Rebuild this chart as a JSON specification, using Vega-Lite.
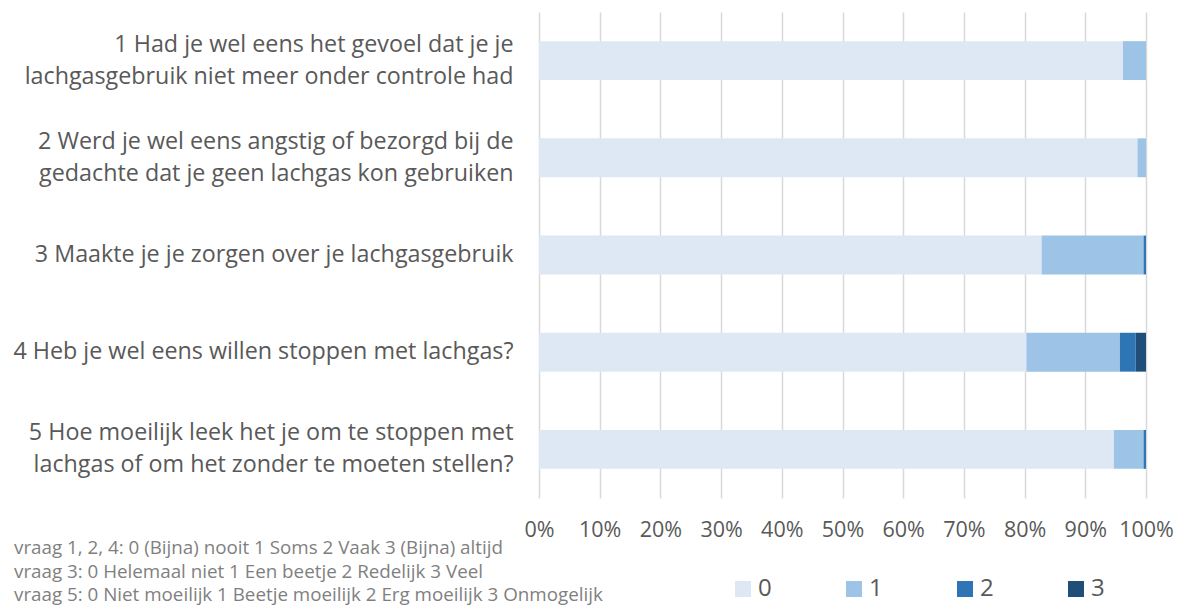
{
  "$schema": "https://vega.github.io/schema/vega-lite/v6.json",
  "width": 607,
  "height": 486,
  "autosize": "none",
  "padding": {"left": 539, "top": 12, "right": 34, "bottom": 111},
  "background": "white",
  "config": {
    "view": {"stroke": null},
    "font": "Open Sans"
  },
  "title": {
    "text": [
      "vraag 1, 2, 4: 0 (Bijna) nooit 1 Soms 2 Vaak 3 (Bijna) altijd",
      "vraag 3: 0 Helemaal niet 1 Een beetje 2 Redelijk 3 Veel",
      "vraag 5: 0 Niet moeilijk 1 Beetje moeilijk 2 Erg moeilijk 3 Onmogelijk"
    ],
    "orient": "bottom",
    "anchor": "start",
    "frame": "group",
    "dx": -525,
    "dy": -68,
    "offset": 6,
    "fontSize": 18.8,
    "fontWeight": "normal",
    "color": "#7F7F7F",
    "lineHeight": 23.5,
    "font": "Open Sans"
  },
  "data": {
    "values": [
      {"vraag": "1 Had je wel eens het gevoel dat je je|lachgasgebruik niet meer onder controle had", "score": "0", "k": 0, "aandeel": 0.962},
      {"vraag": "1 Had je wel eens het gevoel dat je je|lachgasgebruik niet meer onder controle had", "score": "1", "k": 1, "aandeel": 0.038},
      {"vraag": "2 Werd je wel eens angstig of bezorgd bij de|gedachte dat je geen lachgas kon gebruiken", "score": "0", "k": 0, "aandeel": 0.986},
      {"vraag": "2 Werd je wel eens angstig of bezorgd bij de|gedachte dat je geen lachgas kon gebruiken", "score": "1", "k": 1, "aandeel": 0.014},
      {"vraag": "3 Maakte je je zorgen over je lachgasgebruik", "score": "0", "k": 0, "aandeel": 0.828},
      {"vraag": "3 Maakte je je zorgen over je lachgasgebruik", "score": "1", "k": 1, "aandeel": 0.168},
      {"vraag": "3 Maakte je je zorgen over je lachgasgebruik", "score": "2", "k": 2, "aandeel": 0.004},
      {"vraag": "4 Heb je wel eens willen stoppen met lachgas?", "score": "0", "k": 0, "aandeel": 0.803},
      {"vraag": "4 Heb je wel eens willen stoppen met lachgas?", "score": "1", "k": 1, "aandeel": 0.154},
      {"vraag": "4 Heb je wel eens willen stoppen met lachgas?", "score": "2", "k": 2, "aandeel": 0.026},
      {"vraag": "4 Heb je wel eens willen stoppen met lachgas?", "score": "3", "k": 3, "aandeel": 0.017},
      {"vraag": "5 Hoe moeilijk leek het je om te stoppen met|lachgas of om het zonder te moeten stellen?", "score": "0", "k": 0, "aandeel": 0.947},
      {"vraag": "5 Hoe moeilijk leek het je om te stoppen met|lachgas of om het zonder te moeten stellen?", "score": "1", "k": 1, "aandeel": 0.049},
      {"vraag": "5 Hoe moeilijk leek het je om te stoppen met|lachgas of om het zonder te moeten stellen?", "score": "2", "k": 2, "aandeel": 0.004}
    ]
  },
  "mark": {"type": "bar"},
  "encoding": {
    "y": {
      "field": "vraag",
      "type": "nominal",
      "sort": null,
      "scale": {"paddingInner": 0.6, "paddingOuter": 0.3},
      "axis": {
        "title": null,
        "ticks": false,
        "domain": false,
        "labelExpr": "split(datum.label, '|')",
        "labelOffset": {"condition": {"test": "indexof(datum.value, '|') >= 0", "value": -16}, "value": 0},
        "labelFontSize": 23.3,
        "labelLineHeight": 32,
        "labelColor": "#595959",
        "labelPadding": 26,
        "labelLimit": 600,
        "labelFont": "Open Sans"
      }
    },
    "x": {
      "field": "aandeel",
      "type": "quantitative",
      "stack": "zero",
      "scale": {"domain": [0, 1], "nice": false},
      "axis": {
        "title": null,
        "format": "~%",
        "values": [0, 0.1, 0.2, 0.3, 0.4, 0.5, 0.6, 0.7, 0.8, 0.9, 1],
        "domain": false,
        "ticks": false,
        "grid": true,
        "gridColor": "#D9D9D9",
        "gridWidth": 1.5,
        "labelFontSize": 21.5,
        "labelColor": "#595959",
        "labelPadding": 21,
        "labelFont": "Open Sans",
        "labelFlush": false
      }
    },
    "order": {"field": "k", "type": "quantitative", "sort": "ascending"},
    "color": {
      "field": "score",
      "type": "nominal",
      "scale": {"domain": ["0", "1", "2", "3"], "range": ["#DEE8F5", "#9DC3E6", "#2E75B6", "#1F4E79"]},
      "legend": {
        "title": null,
        "orient": "none",
        "direction": "horizontal",
        "legendX": 192,
        "legendY": 565,
        "padding": 0,
        "symbolType": "square",
        "symbolSize": 256,
        "symbolStrokeWidth": 0,
        "symbolOpacity": 1,
        "labelFontSize": 24,
        "labelColor": "#595959",
        "labelFont": "Open Sans",
        "labelOffset": 3,
        "columnPadding": 70
      }
    }
  }
}
